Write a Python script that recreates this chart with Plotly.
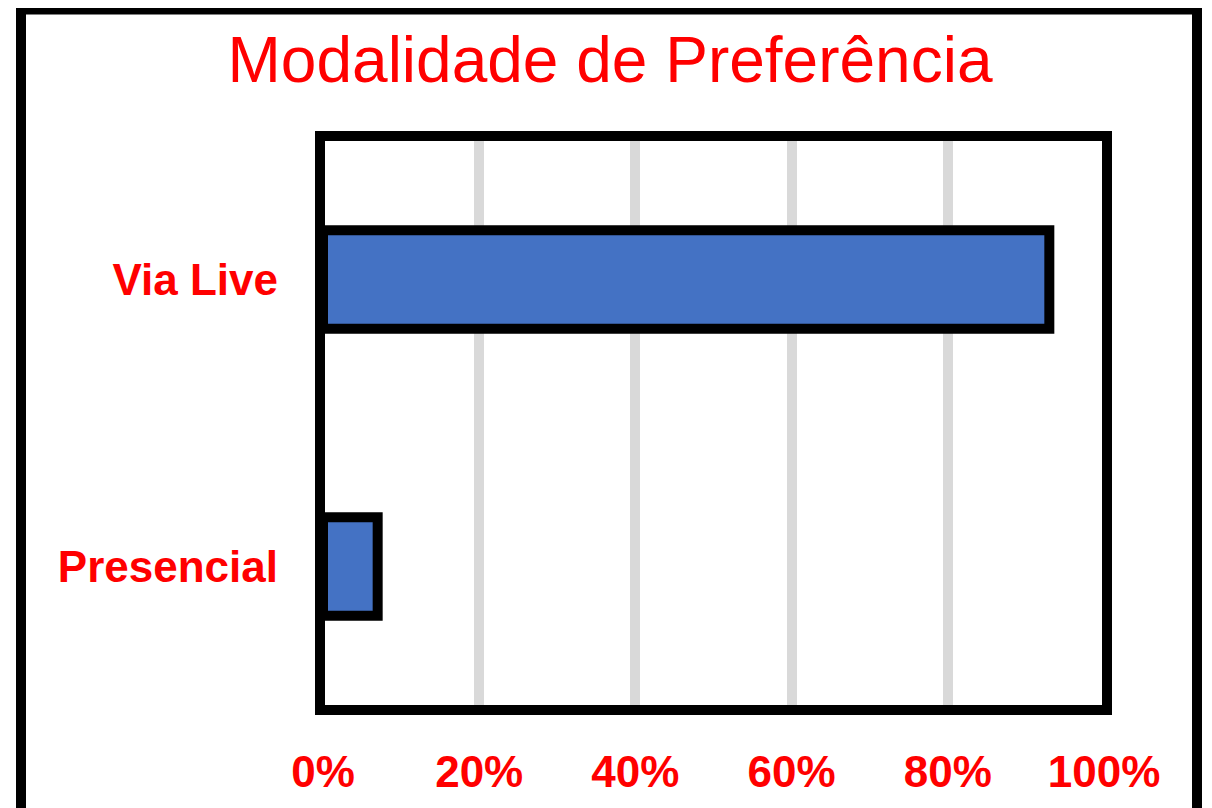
import plotly.graph_objects as go

categories = ["Presencial", "Via Live"]
values = [0.07, 0.93]
tick_vals = [0, 0.2, 0.4, 0.6, 0.8, 1.0]
tick_text = ["0%", "20%", "40%", "60%", "80%", "100%"]

# page body adds an 8px margin, so the figure is 8px smaller
W, H = 1204, 800
L, R, T, B = 315, 108, 128, 96
pw, ph = W - L - R, H - T - B

fig = go.Figure()
fig.add_trace(go.Bar(
    x=values,
    y=categories,
    orientation="h",
    marker=dict(color="#4472C4", line=dict(color="black", width=10)),
))

# plot-area frame and outer chart border
fig.add_shape(type="rect", xref="paper", yref="paper",
              x0=-3 / pw, x1=1 + 3 / pw, y0=0, y1=1,
              line=dict(color="black", width=10), layer="above")
fig.add_shape(type="rect", xref="paper", yref="paper",
              x0=(13 - L) / pw, x1=(1189 - L) / pw,
              y0=(T + ph - 815) / ph, y1=(T + ph - 1) / ph,
              line=dict(color="black", width=10))

fig.update_layout(
    width=W, height=H,
    margin=dict(l=L, r=R, t=T, b=B),
    paper_bgcolor="white", plot_bgcolor="white",
    bargap=0.656,
    showlegend=False,
    font=dict(family="Liberation Sans, Arial", color="#FF0000"),
    title=dict(text="Modalidade de Preferência", xref="container", x=602 / W,
               yref="container", y=1 - 52 / H, xanchor="center", yanchor="middle",
               font=dict(size=64, color="#FF0000")),
    xaxis=dict(range=[0, 1], tickvals=tick_vals, ticktext=tick_text,
               showgrid=True, gridcolor="#D9D9D9", gridwidth=10,
               zeroline=False, showline=False, ticks="",
               ticklabelstandoff=32,
               tickfont=dict(size=44, color="#FF0000", family="Liberation Sans, Arial", weight="bold")),
    yaxis=dict(showgrid=False, zeroline=False, showline=False, ticks="",
               ticklabelstandoff=44,
               tickfont=dict(size=44, color="#FF0000", family="Liberation Sans, Arial", weight="bold")),
)

fig.write_html("out.html")
